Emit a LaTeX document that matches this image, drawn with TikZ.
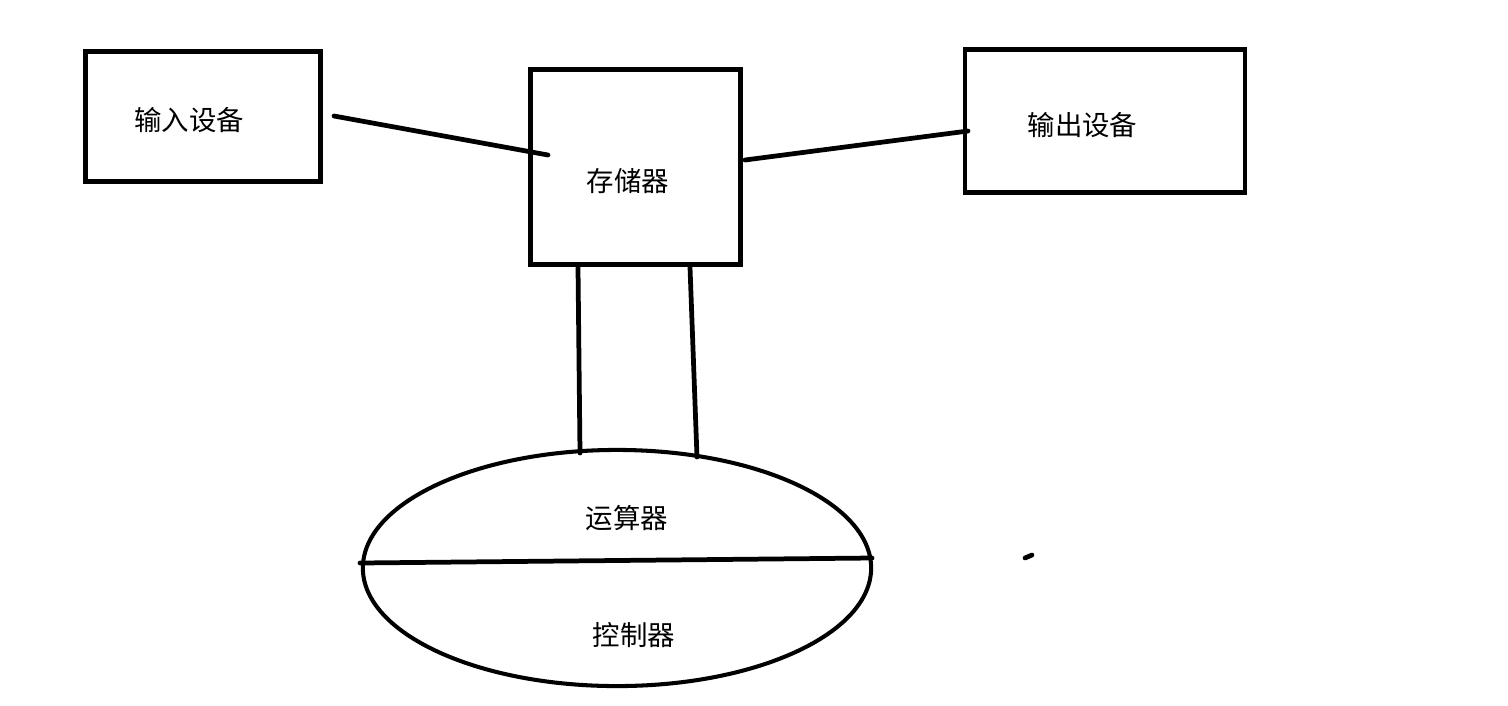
\documentclass[tikz,border=0pt]{standalone}
\usepackage{fontspec}
\setmainfont{Noto Sans CJK SC}
\usetikzlibrary{shapes.geometric,positioning}

\tikzset{
  unitbox/.style={draw, line width=1.35pt, inner sep=0pt},
  wire/.style={line width=1.35pt, line cap=round},
  unitname/.style={font=\fontsize{7.8}{9}\selectfont, inner sep=0pt},
}

\begin{document}
\begin{tikzpicture}[x=0.01cm, y=-0.01cm]
  \useasboundingbox (0,0) rectangle (1508,705);
  % units
  \node[unitbox, minimum width=2.35cm, minimum height=1.30cm] (in)  at (203,116.5) {};
  \node[unitbox, minimum width=2.10cm, minimum height=1.95cm] (mem) at (635.5,167) {};
  \node[unitbox, minimum width=2.80cm, minimum height=1.43cm] (out) at (1105,121) {};
  \node[draw, ellipse, line width=1.15pt, inner sep=0pt,
        minimum width=5.08cm, minimum height=2.36cm] (cpu) at (617,568) {};
  % names
  \node[unitname] (inName)  at (189,120)   {输入设备};
  \node[unitname] (memName) at (628,181.5) {存储器};
  \node[unitname] (outName) at (1082.5,125) {输出设备};
  \node[unitname] (aluName) at (627,518)   {运算器};
  \node[unitname] (cuName)  at (634,635)   {控制器};
  % wire ends
  \coordinate (inA)  at (334,116);
  \coordinate (inB)  at (548,155);
  \coordinate (outA) at (745,160);
  \coordinate (outB) at (968,131);
  \coordinate (busA) at (578,267);
  \coordinate (busB) at (580,453);
  \coordinate (busC) at (690,267);
  \coordinate (busD) at (697,457);
  \coordinate (cutA) at (360,563);
  \coordinate (cutB) at (872,558);
  \coordinate (dotA) at (1025,558);
  \coordinate (dotB) at (1032,555);
  % wires
  \draw[wire] (inA) -- (inB);
  \draw[wire] (outA) -- (outB);
  \draw[wire] (busA) -- (busB);
  \draw[wire] (busC) -- (busD);
  \draw[wire] (cutA) -- (cutB);
  \draw[wire] (dotA) -- (dotB);
\end{tikzpicture}
\end{document}
